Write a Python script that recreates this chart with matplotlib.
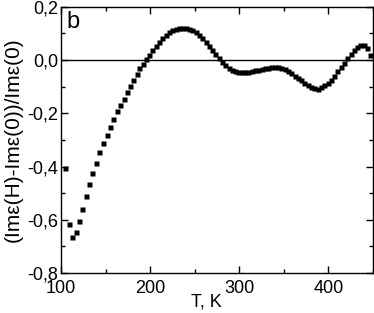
import numpy as np
import matplotlib
matplotlib.use("Agg")
import matplotlib.pyplot as plt
from matplotlib.ticker import MultipleLocator, FuncFormatter

plt.rcParams['font.family'] = ['Liberation Sans', 'DejaVu Sans']

# %% Data
T = [104.5, 109.3, 112.7, 116.4, 120.2, 124.0, 128.4, 131.7, 135.0, 139.0,
     142.7, 147.4, 151.2, 154.9, 158.6, 162.4, 166.4, 170.2, 173.9, 177.6,
     181.0, 184.8, 188.1, 191.8, 195.5, 199.3, 202.7, 206.4, 210.1, 213.9,
     217.6, 221.3, 225.1, 228.8, 232.5, 236.2, 240.0, 243.7, 247.4, 251.1,
     254.8, 258.5, 262.2, 265.9, 269.6, 273.3, 277.0, 280.7, 284.4, 288.1,
     291.8, 295.5, 299.2, 302.9, 306.6, 310.3, 314.0, 317.7, 321.4, 325.1,
     328.8, 332.5, 336.2, 339.9, 343.6, 347.3, 351.0, 354.7, 358.4, 362.1,
     365.8, 369.5, 373.2, 376.9, 380.6, 384.3, 388.0, 391.7, 395.4, 399.1,
     402.8, 406.5, 410.2, 413.9, 417.6, 421.3, 425.0, 428.7, 432.4, 436.1,
     439.8, 443.5, 447.0]
ratio = [-0.406, -0.616, -0.664, -0.645, -0.605, -0.560, -0.510, -0.465, -0.424, -0.385,
         -0.347, -0.312, -0.280, -0.252, -0.221, -0.192, -0.170, -0.145, -0.121, -0.099,
         -0.075, -0.052, -0.031, -0.013, 0.005, 0.021, 0.037, 0.053, 0.068, 0.082,
         0.094, 0.104, 0.112, 0.117, 0.120, 0.121, 0.121, 0.118, 0.113, 0.105,
         0.096, 0.084, 0.069, 0.054, 0.038, 0.022, 0.006, -0.008, -0.020, -0.030,
         -0.037, -0.042, -0.044, -0.045, -0.045, -0.044, -0.042, -0.039, -0.036, -0.033,
         -0.030, -0.028, -0.027, -0.026, -0.027, -0.030, -0.035, -0.042, -0.050, -0.058,
         -0.067, -0.076, -0.086, -0.095, -0.102, -0.106, -0.107, -0.103, -0.095, -0.085,
         -0.073, -0.058, -0.042, -0.025, -0.010, 0.008, 0.024, 0.037, 0.048, 0.055,
         0.056, 0.045, 0.021]

# %% Plot
fig = plt.figure(figsize=(3.74, 3.13), dpi=100)
ax = fig.add_axes([0.163, 0.128, 0.834, 0.850])

ax.axhline(0, color='k', lw=1.0, zorder=1)
ax.plot(T, ratio, 's', color='k', ms=3.6, mec='none', zorder=2)

ax.set_xlim(100, 450)
ax.set_ylim(-0.8, 0.2)
ax.xaxis.set_major_locator(MultipleLocator(100))
ax.xaxis.set_minor_locator(MultipleLocator(50))
ax.yaxis.set_major_locator(MultipleLocator(0.2))
ax.yaxis.set_minor_locator(MultipleLocator(0.1))
ax.yaxis.set_major_formatter(FuncFormatter(lambda v, p: f'{v:.1f}'.replace('.', ',').replace('-0,0', '0,0')))

ax.tick_params(which='both', direction='in', top=True, right=True, labelsize=13, width=1)
ax.tick_params(which='major', length=5)
ax.tick_params(which='minor', length=3)
ax.tick_params(axis='x', which='major', pad=5)
ax.tick_params(axis='y', which='major', pad=2)
for s in ax.spines.values():
    s.set_linewidth(1.0)

ax.set_xlabel('T, K', fontsize=13)
ax.xaxis.set_label_coords(0.465, -0.078)
ax.set_ylabel('(Imε(H)-Imε(0))/Imε(0)', fontsize=15, labelpad=3)
ax.text(0.018, 0.985, 'b', transform=ax.transAxes, fontsize=17, ha='left', va='top')

fig.savefig('out.png', dpi=100)
